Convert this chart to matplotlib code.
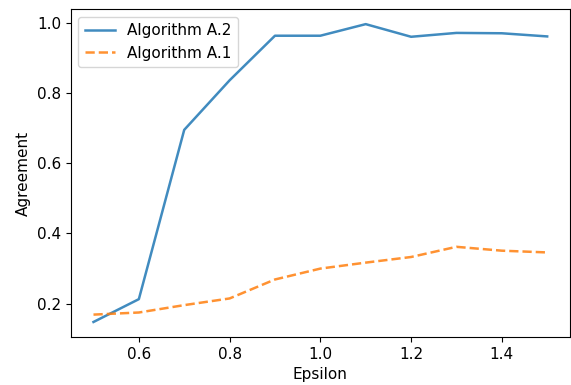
import matplotlib
matplotlib.use("Agg")
import matplotlib.pyplot as plt

epsilon = [0.5, 0.6, 0.7, 0.8, 0.9, 1.0, 1.1, 1.2, 1.3, 1.4, 1.5]
agree_a2 = [0.148, 0.213, 0.695, 0.836, 0.963, 0.963, 0.996, 0.960, 0.971, 0.970, 0.961]
agree_a1 = [0.169, 0.175, 0.196, 0.215, 0.269, 0.300, 0.317, 0.333, 0.362, 0.351, 0.346]

plt.rcParams["font.size"] = 11

fig = plt.figure(figsize=(5.71, 3.85), dpi=100)
ax = fig.add_subplot(111)
fig.subplots_adjust(left=0.124, right=0.998, top=0.976, bottom=0.125)

ax.plot(epsilon, agree_a2, lw=1.8, alpha=0.85, label="Algorithm A.2")
ax.plot(epsilon, agree_a1, "--", lw=1.8, alpha=0.85, label="Algorithm A.1")
ax.set_xlabel("Epsilon")
ax.set_ylabel("Agreement")
ax.legend(loc="upper left")

fig.savefig("out.png", dpi=100)
